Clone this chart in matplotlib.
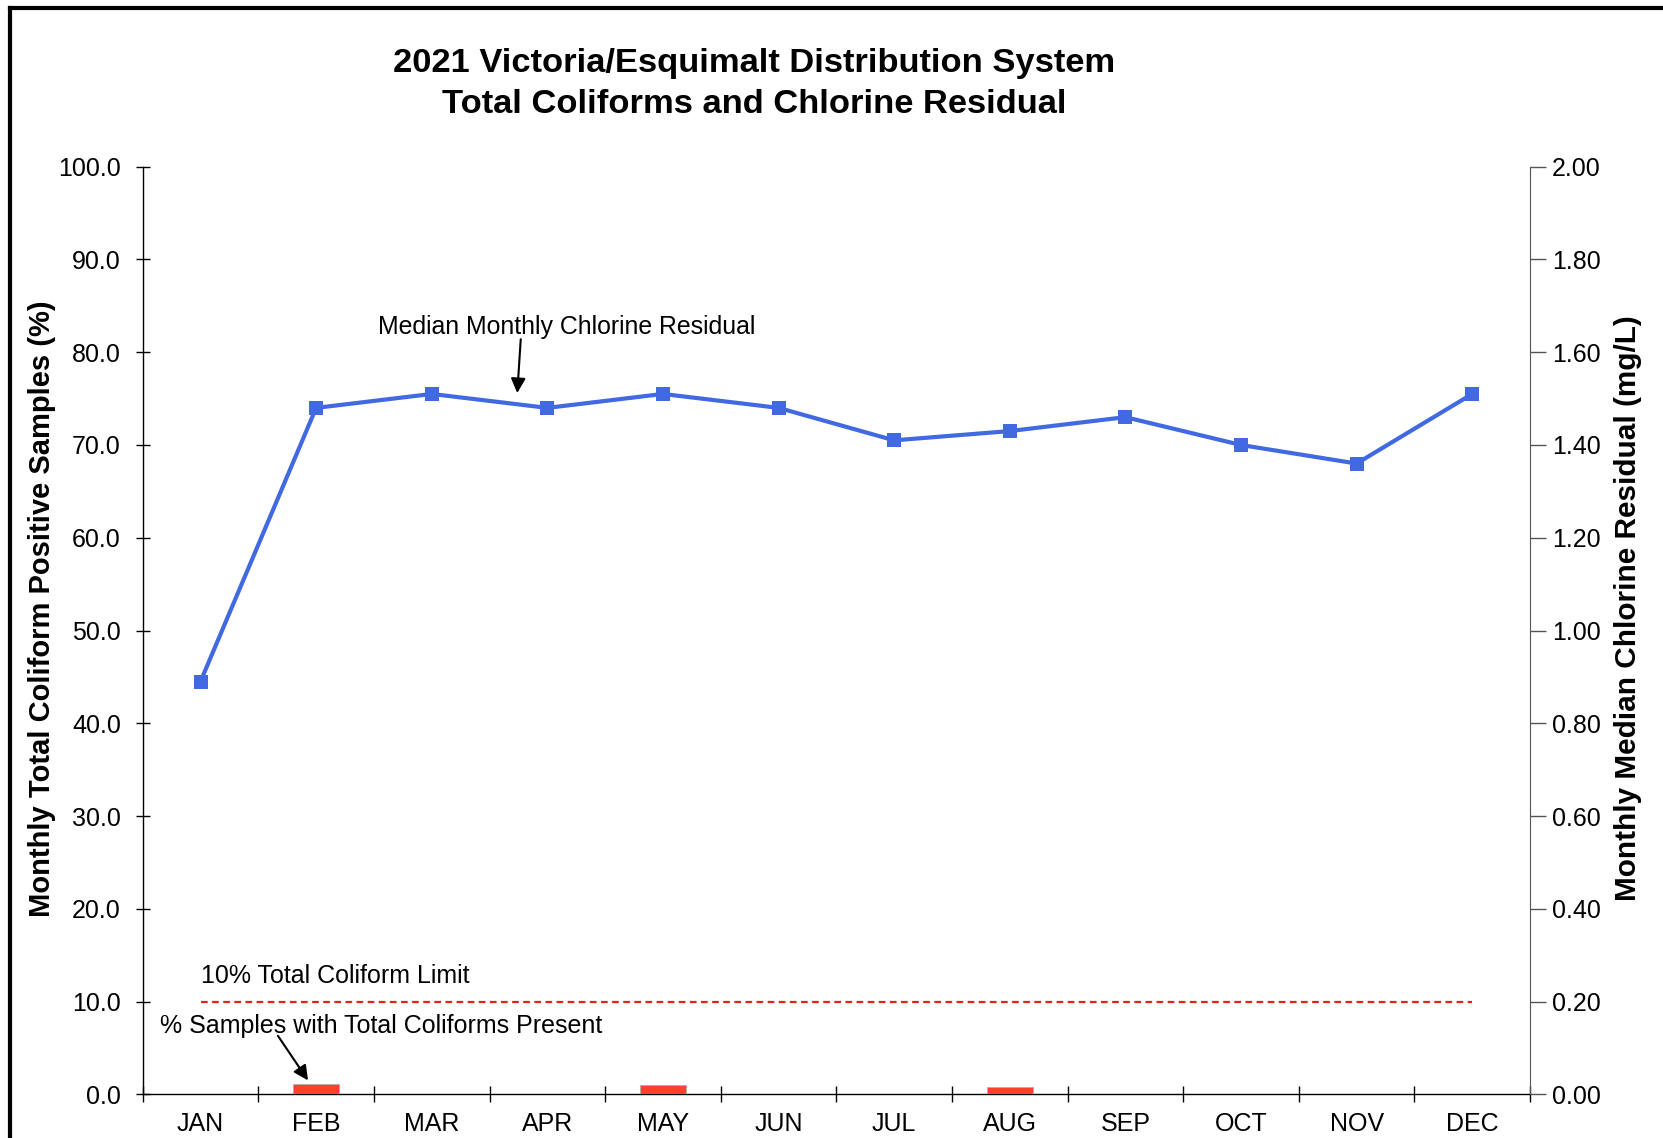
import matplotlib
matplotlib.use('Agg')
import matplotlib.pyplot as plt
from matplotlib.lines import Line2D
from matplotlib.ticker import FixedLocator, FormatStrFormatter
import numpy as np

plt.rcParams['font.family'] = ['Liberation Sans', 'DejaVu Sans']

months = ['JAN', 'FEB', 'MAR', 'APR', 'MAY', 'JUN',
          'JUL', 'AUG', 'SEP', 'OCT', 'NOV', 'DEC']
# % samples with total coliforms present
coliform_pct = [0.0, 1.1, 0.0, 0.0, 1.0, 0.0, 0.0, 0.8, 0.0, 0.0, 0.0, 0.0]
# median monthly chlorine residual, mg/L
chlorine = [0.89, 1.48, 1.51, 1.48, 1.51, 1.48, 1.41, 1.43, 1.46, 1.40, 1.36, 1.51]
coliform_limit = 10.0

W, H = 1663, 1138
fig = plt.figure(figsize=(W / 100, H / 100), dpi=100)
ax = fig.add_axes([142.7 / W, 1 - 1094.3 / H, (1530 - 142.7) / W, (1094.3 - 166.7) / H])
ax2 = ax.twinx()

x = np.arange(len(months))

# coliform bars + limit line on the left axis
ax.bar(x, coliform_pct, width=0.4, color='#ff4030', edgecolor='#b0b0b0',
       linewidth=0.6, zorder=3)
ax.hlines(coliform_limit, x[0], x[-1], colors='#e8201a', linestyles=(0, (3, 2)),
          linewidth=1.6, zorder=2)

# chlorine residual on the right axis
ax2.plot(x, chlorine, color='#4169e1', lw=3, marker='s', markersize=9.8,
         markeredgewidth=0, zorder=4)

ax.set_xlim(-0.5, 11.5)
ax.set_ylim(0, 100)
ax2.set_ylim(0, 2.0)

ax.yaxis.set_major_locator(FixedLocator(np.arange(0, 101, 10)))
ax.yaxis.set_major_formatter(FormatStrFormatter('%.1f'))
ax2.yaxis.set_major_locator(FixedLocator(np.arange(0, 2.01, 0.2)))
ax2.yaxis.set_major_formatter(FormatStrFormatter('%.2f'))

# month boundaries as major ticks, names on minor ticks
ax.xaxis.set_major_locator(FixedLocator(np.arange(-0.5, 12, 1)))
ax.xaxis.set_major_formatter(plt.NullFormatter())
ax.xaxis.set_minor_locator(FixedLocator(x))
ax.set_xticklabels(months, minor=True)

ax.tick_params(axis='x', which='major', direction='inout', length=11.5, width=1)
ax.tick_params(axis='x', which='minor', length=0, pad=13, labelsize=18)
ax.tick_params(axis='y', direction='inout', length=9.4, width=1, pad=11, labelsize=18)
ax2.tick_params(axis='y', direction='out', length=11.3, width=1, pad=4.3,
                labelsize=18, color='#555555')

for a in (ax, ax2):
    a.spines['top'].set_visible(False)
ax.spines['right'].set_visible(False)
ax2.spines['left'].set_visible(False)
ax2.spines['bottom'].set_visible(False)
ax2.spines['right'].set_color('#555555')
ax.spines['left'].set_linewidth(1)
ax.spines['bottom'].set_linewidth(1)

# callouts
ax.text(3.17, 82.75, 'Median Monthly Chlorine Residual', ha='center', va='center',
        fontsize=17.9)
ax.annotate('', xy=(2.74, 75.6), xytext=(2.77, 81.4),
            arrowprops=dict(arrowstyle='-|>', color='black', lw=1.5,
                            mutation_scale=22, shrinkA=0, shrinkB=0))
ax.text(0, 12.8, '10% Total Coliform Limit', ha='left', va='center', fontsize=18)
ax.text(-0.35, 7.4, '% Samples with Total Coliforms Present', ha='left',
        va='center', fontsize=18)
ax.annotate('', xy=(0.93, 1.5), xytext=(0.67, 6.3),
            arrowprops=dict(arrowstyle='-|>', color='black', lw=1.5,
                            mutation_scale=22, shrinkA=0, shrinkB=0))

fig.text(754 / W, 1 - 83.6 / H,
         '2021 Victoria/Esquimalt Distribution System\nTotal Coliforms and Chlorine Residual',
         ha='center', va='center', fontsize=24.8, fontweight='bold', linespacing=1.42)
fig.text(42.4 / W, 1 - 609 / H, 'Monthly Total Coliform Positive Samples (%)',
         rotation=90, ha='center', va='center', fontsize=21, fontweight='bold')
fig.text(1628 / W, 1 - 608.6 / H, 'Monthly Median Chlorine Residual (mg/L)',
         rotation=90, ha='center', va='center', fontsize=21.4, fontweight='bold')

# outer frame (left and top edges)
fig.add_artist(Line2D([10 / W, 10 / W], [0, 1 - 8 / H], transform=fig.transFigure,
                      color='black', lw=3, solid_capstyle='projecting'))
fig.add_artist(Line2D([10 / W, 1], [1 - 8 / H, 1 - 8 / H], transform=fig.transFigure,
                      color='black', lw=3, solid_capstyle='projecting'))

plt.savefig('out.png', dpi=100)
plt.close()
